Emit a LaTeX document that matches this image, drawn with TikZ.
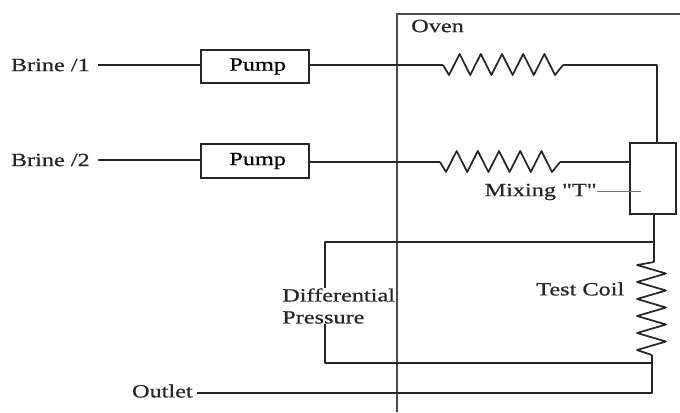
\documentclass[tikz,border=0pt]{standalone}
\usepackage{fontspec}
\setmainfont[Ligatures=TeXOff,FakeStretch=1.3,FakeBold=0.7]{Liberation Serif}
\tikzset{
    oven diagram/.style = {x=0.75pt, y=-0.75pt, font=\fontsize{14}{16.5}\selectfont},
    line/.style         = {draw=black!85, line width=1.3pt, line join=round},
    thinline/.style     = {draw=black!55, line width=0.5pt},
    ovenline/.style     = {draw=black!70, line width=1.4pt},
    pumpblock/.style    = {draw=black!85, line width=1.3pt, minimum width=81pt,
                           minimum height=25pt, inner sep=0pt, outer sep=0pt},
    mixblock/.style     = {draw=black!85, line width=1.3pt, minimum width=34.5pt,
                           minimum height=53pt, inner sep=0pt, outer sep=0pt},
    tag/.style          = {inner ysep=0pt, inner xsep=0pt, text=black!85},
    heater/.pic = {
        \coordinate (-in) at (0,0);
        \coordinate (-out) at (120,0);
        \draw[line] (-in) -- (6,10)
            \foreach \k in {1,...,5} { -- ++(10.6,-21) -- ++(10.6,21) }
            -- (-out);
    },
    testcoil/.pic = {
        \coordinate (-in) at (0,0);
        \coordinate (-out) at (-2,93);
        \draw[line] (-in) -- (-17,3)
            \foreach \k in {1,...,5} { -- ++(29,8.5) -- ++(-29,8.5) }
            -- (-out);
    }
}
\begin{document}
\begin{tikzpicture}[oven diagram]
\useasboundingbox (0,0) rectangle (680,412);

% Oven outline, open to the right and below
\coordinate (ovenNE) at (680,14);
\coordinate (ovenNW) at (397,14);
\coordinate (ovenSW) at (397,412);
\draw[ovenline] (ovenNE) -- (ovenNW) -- (ovenSW);
\node[tag, anchor=west] (oven) at (411,26) {Oven};

% Two brine feeds: pump, then heater inside the oven
\node[tag, inner xsep=6pt, anchor=east] (brineA) at (98,65) {Brine /1};
\node[tag, inner xsep=6pt, anchor=east] (brineB) at (98,160) {Brine /2};
\node[pumpblock] (pumpA) at (255,66.5) {\hspace*{4pt}Pump};
\node[pumpblock] (pumpB) at (255,161) {\hspace*{4pt}Pump};
\pic (heatA) at (443,65) {heater};
\pic (heatB) at (440,162) {heater};
\node[mixblock] (mix) at (653,178.5) {};
\coordinate (mixA) at (657,65);

\draw[line] (brineA.east) -- (pumpA.west |- brineA.east);
\draw[line] (brineB.east) -- (pumpB.west |- brineB.east);
\draw[line] (pumpA.east |- heatA-in) -- (heatA-in);
\draw[line] (pumpB.east |- heatB-in) -- (heatB-in);
\draw[line] (heatA-out) -- (mixA) -- (mixA |- mix.north);
\draw[line] (heatB-out) -- (mix.west |- heatB-out);

% Pointer into the mixing tee
\node[tag, anchor=east] (mixlabel) at (597,192) {Mixing "T"};
\coordinate (mixpoint) at (641,191);
\draw[thinline] (mixlabel.east |- mixpoint) -- (mixpoint);

% Test coil and return to the outlet
\pic (coil) at (654,262) {testcoil};
\node[tag, anchor=west] (coillabel) at (536,289) {Test Coil};
\node[tag, inner xsep=3pt, anchor=east] (outlet) at (197,391) {Outlet};
\coordinate (tapTop) at (654,242);
\coordinate (tapLow) at (652,363);
\coordinate (outletEnd) at (652,393);
\draw[line] (coil-in |- mix.south) -- (coil-in);
\draw[line] (coil-out) -- (outletEnd) -- (outlet.east |- outletEnd);

% Differential pressure taps, broken by the label
\node[tag, align=left, anchor=west] (dp) at (282,306) {Differential\\Pressure};
\coordinate (dpTop) at (325,242);
\coordinate (dpLow) at (325,363);
\draw[line] (tapTop) -- (dpTop) -- (dpTop |- dp.north);
\draw[line] (tapLow) -- (dpLow) -- (dpLow |- dp.south);

\end{tikzpicture}
\end{document}
